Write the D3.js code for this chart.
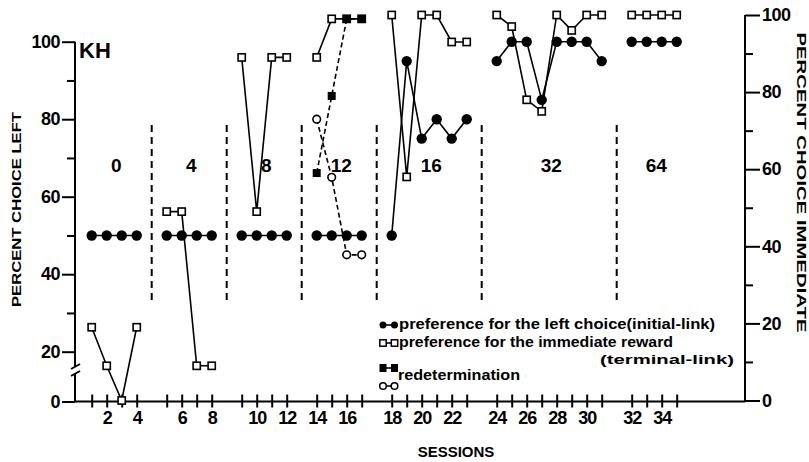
<!DOCTYPE html>
<html><head><meta charset="utf-8">
<script src="https://cdn.jsdelivr.net/npm/d3@7"></script>
<style>
html,body{margin:0;padding:0;background:#fff;}
svg{display:block;}
text{font-family:"Liberation Sans",Arial,Helvetica,sans-serif;font-weight:bold;fill:#000;}
</style></head><body>
<svg id="chart" width="809" height="462"></svg>
<script>
// Delay (s) in each condition block
const delays = ["0", "4", "8", "12", "16", "32", "64"];
// Sessions run in each block (no session 13)
const blockSessions = [
  [1, 2, 3, 4],
  [5, 6, 7, 8],
  [9, 10, 11, 12],
  [14, 15, 16, 17],
  [18, 19, 20, 21, 22, 23],
  [24, 25, 26, 27, 28, 29, 30, 31],
  [32, 33, 34, 35]
];
// Percent choice of the left key, initial link (left axis)
const leftChoice = [
  [50, 50, 50, 50],
  [50, 50, 50, 50],
  [50, 50, 50, 50],
  [50, 50, 50, 50],
  [50, 95, 75, 80, 75, 80],
  [95, 100, 100, 85, 100, 100, 100, 95],
  [100, 100, 100, 100]
];
// Percent choice of the immediate reward, terminal link (right axis)
const immediateChoice = [
  [19, 9, 0, 19],
  [49, 49, 9, 9],
  [89, 49, 89, 89],
  [89, 99, 99, 99],
  [100, 58, 100, 100, 93, 93],
  [100, 97, 78, 75, 100, 96, 100, 100],
  [100, 100, 100, 100]
];
// Redetermination sessions
const redetSessions = [14, 15, 16, 17];
const redetImmediate = [59, 79, 99, 99];
const redetLeft = [80, 65, 45, 45];

const leftTicks = [0, 20, 40, 60, 80, 100];
const leftMinor = [30, 50, 70, 90];
const rightTicks = [0, 20, 40, 60, 80, 100];
const rightMinor = [10, 30, 50, 70, 90];
const sessionLabels = [2, 4, 6, 8, 10, 12, 14, 16, 18, 20, 22, 24, 26, 28, 30, 32, 34];

const svg = d3.select("#chart");

// slot position along the x axis: one empty slot between blocks
const slotOf = new Map();
let n = 0;
blockSessions.forEach((ss, g) => ss.forEach(s => { slotOf.set(s, n + g); n++; }));
const allSessions = blockSessions.flat();

const x = d3.scaleLinear().domain([0, 39]).range([91.7, 676.7]);
const xs = s => x(slotOf.get(s));
// left axis is broken between 0 and 20
const yL = d3.scaleLinear().domain([0, 20, 100]).range([401.5, 351.7, 41.7]);
const yR = d3.scaleLinear().domain([0, 100]).range([400.5, 15]);

const X0 = 75, X1 = 745, BASE = 401.5;

// ---- axes ----
const axisStyle = g => {
  g.attr("font-family", null).attr("font-size", null);
  g.selectAll(".domain").remove();
  g.selectAll(".tick line").attr("stroke", "#000").attr("stroke-width", 2);
  g.selectAll(".tick text").style("font-size", "18px").attr("letter-spacing", "-0.5");
};

svg.append("g").attr("transform", `translate(${X0},0)`)
  .call(d3.axisLeft(yL).tickValues(leftTicks).tickSize(13).tickPadding(2))
  .call(axisStyle);
svg.append("g").attr("transform", `translate(${X0},0)`)
  .call(d3.axisLeft(yL).tickValues(leftMinor).tickSize(8).tickFormat(""))
  .call(axisStyle);
svg.append("g").attr("transform", `translate(${X1},0)`)
  .call(d3.axisRight(yR).tickValues(rightTicks).tickSize(15).tickPadding(2))
  .call(axisStyle);
svg.append("g").attr("transform", `translate(${X1},0)`)
  .call(d3.axisRight(yR).tickValues(rightMinor).tickSize(8).tickFormat(""))
  .call(axisStyle);

const xAxis = svg.append("g").attr("transform", `translate(0,${BASE})`)
  .call(d3.axisBottom(x)
    .tickValues(allSessions.map(s => slotOf.get(s)))
    .tickSize(6).tickPadding(4)
    .tickFormat((d, i) => sessionLabels.includes(allSessions[i]) ? allSessions[i] : ""))
  .call(axisStyle);
xAxis.selectAll(".tick line").attr("y1", -7);
xAxis.selectAll(".tick text").attr("letter-spacing", "-1");

// axis lines
const axisLines = svg.append("g").attr("stroke", "#000").attr("stroke-width", 2).attr("fill", "none");
axisLines.append("line").attr("x1", X0).attr("x2", X0).attr("y1", yL(100)).attr("y2", 366);
axisLines.append("line").attr("x1", X0).attr("x2", X0).attr("y1", 374).attr("y2", BASE);
axisLines.append("line").attr("x1", X1).attr("x2", X1).attr("y1", yR(100)).attr("y2", BASE);
axisLines.append("line").attr("x1", X0).attr("x2", X1).attr("y1", BASE).attr("y2", BASE);
// break marks on the left axis
axisLines.append("line").attr("x1", 71).attr("y1", 369).attr("x2", 80).attr("y2", 364);
axisLines.append("line").attr("x1", 71).attr("y1", 376).attr("x2", 80).attr("y2", 371);

// ---- block separators and delay labels ----
blockSessions.forEach((ss, g) => {
  if (g > 0) {
    const xd = x(slotOf.get(ss[0]) - 1);
    svg.append("line").attr("x1", xd).attr("x2", xd)
      .attr("y1", yL(78.5)).attr("y2", yL(32.5))
      .attr("stroke", "#000").attr("stroke-width", 2).attr("stroke-dasharray", "7,5");
  }
  const xc = (xs(ss[0]) + xs(ss[ss.length - 1])) / 2 + 2;
  svg.append("text").attr("x", xc).attr("y", 172).attr("text-anchor", "middle")
    .style("font-size", "19px").text(delays[g]);
});

svg.append("text").attr("x", 79).attr("y", 58).style("font-size", "22px").text("KH");

// ---- data ----
const line = (yScale) => d3.line().x(d => xs(d.s)).y(d => yScale(d.v));
const pts = (sessions, vals) => sessions.map((s, i) => ({ s, v: vals[i] }));

const dataG = svg.append("g");
blockSessions.forEach((ss, g) => {
  dataG.append("path").datum(pts(ss, immediateChoice[g]))
    .attr("d", line(yR)).attr("fill", "none").attr("stroke", "#000").attr("stroke-width", 1.6);
  dataG.append("path").datum(pts(ss, leftChoice[g]))
    .attr("d", line(yL)).attr("fill", "none").attr("stroke", "#000").attr("stroke-width", 1.6);
});
dataG.append("path").datum(pts(redetSessions, redetImmediate))
  .attr("d", line(yR)).attr("fill", "none").attr("stroke", "#000").attr("stroke-width", 1.6)
  .attr("stroke-dasharray", "5,3");
dataG.append("path").datum(pts(redetSessions, redetLeft))
  .attr("d", line(yL)).attr("fill", "none").attr("stroke", "#000").attr("stroke-width", 1.6)
  .attr("stroke-dasharray", "5,3");

blockSessions.forEach((ss, g) => {
  dataG.selectAll(null).data(pts(ss, leftChoice[g])).join("circle")
    .attr("cx", d => xs(d.s)).attr("cy", d => yL(d.v)).attr("r", 5.2).attr("fill", "#000");
  dataG.selectAll(null).data(pts(ss, immediateChoice[g])).join("rect")
    .attr("x", d => xs(d.s) - 3.6).attr("y", d => yR(d.v) - 3.6)
    .attr("width", 7.2).attr("height", 7.2)
    .attr("fill", "#fff").attr("stroke", "#000").attr("stroke-width", 1.6);
});
dataG.selectAll(null).data(pts(redetSessions, redetImmediate)).join("rect")
  .attr("x", d => xs(d.s) - 4).attr("y", d => yR(d.v) - 4)
  .attr("width", 8).attr("height", 8).attr("fill", "#000");
dataG.selectAll(null).data(pts(redetSessions, redetLeft)).join("circle")
  .attr("cx", d => xs(d.s)).attr("cy", d => yL(d.v)).attr("r", 3.8)
  .attr("fill", "#fff").attr("stroke", "#000").attr("stroke-width", 1.6);

// ---- axis titles ----
svg.append("text").attr("transform", "translate(20.5,209.5) rotate(-90)")
  .attr("text-anchor", "middle").style("font-size", "12.5px")
  .attr("textLength", 195).attr("lengthAdjust", "spacingAndGlyphs")
  .text("PERCENT CHOICE  LEFT");
svg.append("text").attr("transform", "translate(797,182.5) rotate(90)")
  .attr("text-anchor", "middle").style("font-size", "12.5px")
  .attr("textLength", 300).attr("lengthAdjust", "spacingAndGlyphs")
  .text("PERCENT CHOICE  IMMEDIATE");
svg.append("text").attr("x", 456).attr("y", 457).attr("text-anchor", "middle")
  .style("font-size", "15px").text("SESSIONS");

// ---- legend ----
const lg = svg.append("g");
const lx1 = 383, lx2 = 394.5;
const legendText = (x0, y0, len, str, size) => lg.append("text").attr("x", x0).attr("y", y0)
  .style("font-size", (size || 14) + "px").attr("textLength", len)
  .attr("lengthAdjust", "spacingAndGlyphs").text(str);
const seg = (y0) => lg.append("line").attr("x1", lx1).attr("x2", lx2).attr("y1", y0).attr("y2", y0)
  .attr("stroke", "#000").attr("stroke-width", 1.6);

seg(325);
[lx1, lx2].forEach(cx => lg.append("circle").attr("cx", cx).attr("cy", 325).attr("r", 3.5).attr("fill", "#000"));
legendText(399, 329, 316, "preference for the left choice(initial-link)");

seg(343);
[lx1, lx2].forEach(cx => lg.append("rect").attr("x", cx - 3.2).attr("y", 339.8).attr("width", 6.4).attr("height", 6.4)
  .attr("fill", "#fff").attr("stroke", "#000").attr("stroke-width", 1.5));
legendText(399, 347, 274, "preference for the immediate reward");
legendText(600, 363.5, 134, "(terminal-link)", 13.5);

seg(368);
[lx1, lx2].forEach(cx => lg.append("rect").attr("x", cx - 3.5).attr("y", 364).attr("width", 7).attr("height", 8).attr("fill", "#000"));
seg(386);
[lx1, lx2].forEach(cx => lg.append("circle").attr("cx", cx).attr("cy", 386).attr("r", 3.3)
  .attr("fill", "#fff").attr("stroke", "#000").attr("stroke-width", 1.5));
legendText(398, 379.5, 122, "redetermination");
</script>
</body></html>
